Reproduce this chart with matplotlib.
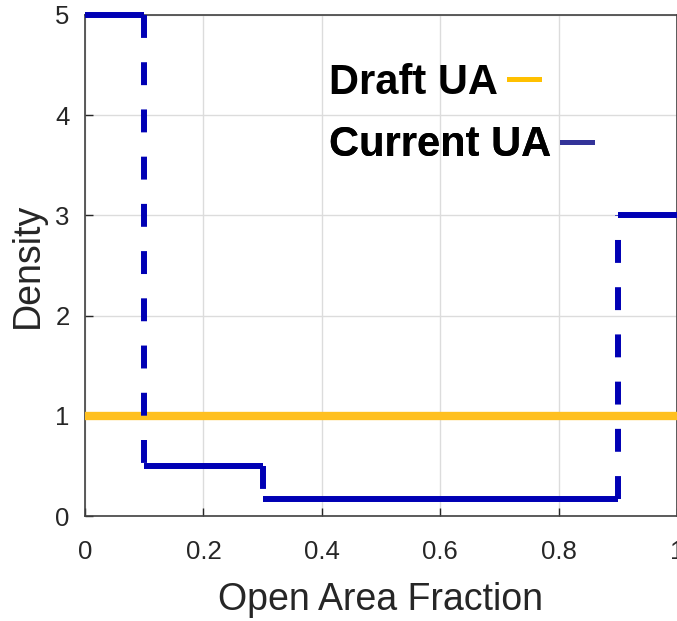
import matplotlib
matplotlib.use("Agg")
import matplotlib.pyplot as plt
from matplotlib.lines import Line2D

# piecewise-constant densities over open area fraction
edges = [0.0, 0.1, 0.3, 0.9, 1.0]
current_density = [5.0, 0.5, 1 / 6, 3.0]
draft_x = [0.0, 1.0]
draft_density = [1.0, 1.0]

xticks = [0, 0.2, 0.4, 0.6, 0.8, 1]
xticklabels = ["0", "0.2", "0.4", "0.6", "0.8", "1"]
yticks = [0, 1, 2, 3, 4, 5]

blue = "#0000B4"
yellow = "#FFC020"

plt.rcParams["font.family"] = ["Liberation Sans", "DejaVu Sans"]
plt.rcParams["lines.scale_dashes"] = False

fig = plt.figure(figsize=(6.77, 6.21), dpi=100)
ax = fig.add_axes([85 / 677, 105 / 621, 592 / 677, 501 / 621])

ax.plot(draft_x, draft_density, color=yellow, lw=6, solid_capstyle="butt", zorder=3)

# horizontal steps solid, jumps dashed
for i, d in enumerate(current_density):
    ax.plot([edges[i], edges[i + 1]], [d, d], color=blue, lw=4.3,
            solid_capstyle="butt", zorder=4, clip_on=False)
    if i > 0:
        ax.plot([edges[i], edges[i]], [current_density[i - 1], d], color=blue,
                lw=4.3, ls=(0, (16.5, 17.5)), dash_capstyle="butt", zorder=4)

ax.set_xlim(0, 1)
ax.set_ylim(0, 5)
ax.set_xticks(xticks)
ax.set_xticklabels(xticklabels)
ax.set_yticks(yticks)
ax.tick_params(direction="in", length=6, width=1, colors="#262626",
               labelsize=18.5, pad=11)
ax.tick_params(axis="x", pad=17)
ax.grid(True, color="#DCDCDC", lw=1)
ax.set_axisbelow(True)
for side in ["left", "bottom", "top", "right"]:
    ax.spines[side].set_color("#404040")
    ax.spines[side].set_linewidth(1.2)

ax.set_xlabel("Open Area Fraction", fontsize=27, color="#262626", labelpad=13)
ax.set_ylabel("Density", fontsize=27, color="#262626", labelpad=7)

# one legend per entry so each label stays left-aligned with its line after it
legend_font = {"weight": "bold", "size": 30}
entries = [("Draft UA", "#FFC000", 0.905), ("Current UA", "#333399", 0.78)]
for label, color, top in entries:
    leg = ax.legend([Line2D([], [], color=color, lw=3.6)], [label],
                    loc="upper left", bbox_to_anchor=(0.412, top),
                    frameon=False, markerfirst=False, borderaxespad=0,
                    borderpad=0, handlelength=0.72, handletextpad=0.26,
                    prop=legend_font)
    ax.add_artist(leg)

fig.savefig("out.png", dpi=100)
